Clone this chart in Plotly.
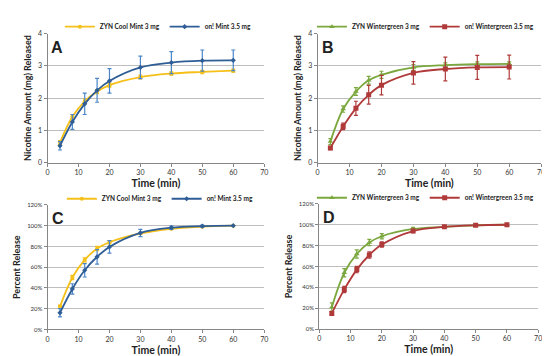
import plotly.graph_objects as go

time = [4, 8, 12, 16, 20, 30, 40, 50, 60]

# Panel A: nicotine amount (mg), mint
zyn_mint_mg = [0.62, 1.42, 1.90, 2.20, 2.40, 2.65, 2.76, 2.81, 2.85]
zyn_mint_mg_err = [0.06, 0.07, 0.07, 0.06, 0.06, 0.06, 0.05, 0.05, 0.05]
on_mint_mg = [0.52, 1.26, 1.82, 2.24, 2.53, 2.95, 3.10, 3.16, 3.17]
on_mint_mg_err = [0.13, 0.23, 0.33, 0.37, 0.38, 0.35, 0.34, 0.33, 0.32]

# Panel B: nicotine amount (mg), wintergreen
zyn_wg_mg = [0.65, 1.66, 2.20, 2.55, 2.72, 2.95, 3.02, 3.05, 3.06]
zyn_wg_mg_err = [0.09, 0.10, 0.12, 0.12, 0.11, 0.09, 0.07, 0.07, 0.06]
on_wg_mg = [0.45, 1.12, 1.68, 2.10, 2.40, 2.78, 2.90, 2.95, 2.96]
on_wg_mg_err = [0.05, 0.10, 0.22, 0.29, 0.30, 0.35, 0.37, 0.37, 0.37]

# Panel C: percent release, mint
zyn_mint_pct = [0.22, 0.50, 0.67, 0.78, 0.84, 0.925, 0.97, 0.99, 1.00]
zyn_mint_pct_err = [0.015, 0.02, 0.02, 0.02, 0.015, 0.01, 0.008, 0.005, 0.0]
on_mint_pct = [0.16, 0.39, 0.57, 0.70, 0.795, 0.93, 0.98, 0.995, 1.00]
on_mint_pct_err = [0.04, 0.05, 0.065, 0.07, 0.06, 0.035, 0.015, 0.01, 0.0]

# Panel D: percent release, wintergreen
zyn_wg_pct = [0.21, 0.54, 0.72, 0.83, 0.89, 0.96, 0.98, 0.995, 1.00]
zyn_wg_pct_err = [0.04, 0.04, 0.04, 0.03, 0.025, 0.015, 0.01, 0.005, 0.0]
on_wg_pct = [0.15, 0.38, 0.57, 0.71, 0.81, 0.94, 0.98, 0.995, 1.00]
on_wg_pct_err = [0.02, 0.03, 0.03, 0.03, 0.025, 0.015, 0.01, 0.005, 0.0]

names = {
    "zm": "ZYN Cool Mint 3 mg",
    "om": "on! Mint 3.5 mg",
    "zw": "ZYN Wintergreen 3 mg",
    "ow": "on! Wintergreen 3.5 mg",
}

YEL = "#F5C01A"
BLU = "#2F5D96"
BLU_E = "#4A86C8"
GRN = "#7BA83E"
RED = "#B03A3A"
FONT = "Lato"

fig = go.Figure()

def add(y, err, name, color, ecolor, symbol, size, xa, ya, legend):
    fig.add_trace(go.Scatter(
        x=time, y=y, name=name, mode="lines+markers",
        line=dict(color=color, width=1.8, shape="spline", smoothing=1.0),
        marker=dict(color=color, symbol=symbol, size=size),
        error_y=dict(type="data", array=err, color=ecolor, thickness=1.2, width=2),
        xaxis=xa, yaxis=ya, legend=legend,
    ))

add(zyn_mint_mg, zyn_mint_mg_err, names["zm"], YEL, YEL, "circle", 4, "x", "y", "legend")
add(on_mint_mg, on_mint_mg_err, names["om"], BLU, BLU_E, "diamond", 4, "x", "y", "legend")
add(zyn_wg_mg, zyn_wg_mg_err, names["zw"], GRN, GRN, "triangle-up", 5, "x2", "y2", "legend2")
add(on_wg_mg, on_wg_mg_err, names["ow"], RED, RED, "square", 5, "x2", "y2", "legend2")
add(zyn_mint_pct, zyn_mint_pct_err, names["zm"], YEL, YEL, "circle", 4, "x3", "y3", "legend3")
add(on_mint_pct, on_mint_pct_err, names["om"], BLU, BLU_E, "diamond", 4, "x3", "y3", "legend3")
add(zyn_wg_pct, zyn_wg_pct_err, names["zw"], GRN, GRN, "triangle-up", 5, "x4", "y4", "legend4")
add(on_wg_pct, on_wg_pct_err, names["ow"], RED, RED, "square", 5, "x4", "y4", "legend4")

W, H = 550, 356
def px(v):
    return v / W
def py(v):
    return 1 - v / H

domains = {
    "1": ([38, 257], [153, 21]),
    "2": ([311, 537], [153, 21]),
    "3": ([38, 257], [323.7, 196.3]),
    "4": ([312.7, 534], [323.3, 195.3]),
}

layout = dict(
    width=W, height=H, margin=dict(l=0, r=0, t=0, b=0),
    paper_bgcolor="white", plot_bgcolor="white",
    font=dict(family=FONT, color="#222222"),
)

for k, (xd, yd) in domains.items():
    sx = "" if k == "1" else k
    pct = k in ("3", "4")
    layout["xaxis" + sx] = dict(
        domain=[px(xd[0]), px(xd[1])], anchor="y" + sx,
        range=[0, 70], dtick=10, tick0=0,
        showline=True, linecolor="#868686", linewidth=1,
        ticks="outside", ticklen=3, tickcolor="#868686",
        tickfont=dict(size=7, color="#333333"),
        showgrid=False, zeroline=False,
        title=dict(text="<b>Time (min)</b>", font=dict(size=10.5, color="#222222"), standoff=4),
    )
    layout["yaxis" + sx] = dict(
        domain=[py(yd[0]), py(yd[1])], anchor="x" + sx,
        range=[0, 1.2] if pct else [0, 4],
        dtick=0.2 if pct else 1,
        tickformat=".0%" if pct else None,
        showline=True, linecolor="#868686", linewidth=1,
        ticks="outside", ticklen=3, tickcolor="#868686",
        tickfont=dict(size=7 if not pct else 6, color="#333333"),
        showgrid=True, gridcolor="#BEBEBE", gridwidth=1, zeroline=False,
        title=dict(text="<b>Percent Release</b>" if pct else "<b>Nicotine Amount (mg) Released</b>",
                   font=dict(size=9, color="#222222"), standoff=4),
    )

leg_common = dict(orientation="h", xanchor="center", yanchor="middle",
                  font=dict(size=6.5, color="#222222", family=FONT, weight="bold"),
                  bgcolor="rgba(0,0,0,0)", itemwidth=30, tracegroupgap=0)
layout["legend"] = dict(leg_common, x=px(150), y=py(14))
layout["legend2"] = dict(leg_common, x=px(420), y=py(14))
layout["legend3"] = dict(leg_common, x=px(152), y=py(190))
layout["legend4"] = dict(leg_common, x=px(420), y=py(189))

labels = [("A", 48, 35), ("B", 322, 35), ("C", 49, 210), ("D", 323, 209)]
layout["annotations"] = [
    dict(text="<b>%s</b>" % t, x=px(x), y=py(y), xref="paper", yref="paper",
         showarrow=False, font=dict(size=16, color="#222222", family="Liberation Sans"),
         xanchor="center", yanchor="middle")
    for t, x, y in labels
]

fig.update_layout(**layout)
fig.write_html("out.html")
